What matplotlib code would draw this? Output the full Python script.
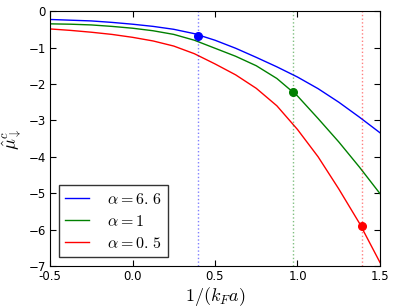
import matplotlib
matplotlib.use("Agg")
import matplotlib.pyplot as plt

# values
x_vals = [-0.5, -0.375, -0.25, -0.125, 0.0, 0.125, 0.25, 0.375, 0.5,
          0.625, 0.75, 0.875, 1.0, 1.125, 1.25, 1.375, 1.5]
mu_a66 = [-0.23, -0.25, -0.27, -0.31, -0.36, -0.42, -0.50, -0.62, -0.80,
          -1.02, -1.27, -1.53, -1.81, -2.13, -2.50, -2.91, -3.34]
mu_a1 = [-0.35, -0.36, -0.38, -0.42, -0.47, -0.54, -0.64, -0.80, -1.02,
         -1.24, -1.50, -1.85, -2.33, -2.95, -3.59, -4.28, -5.01]
mu_a05 = [-0.49, -0.53, -0.58, -0.64, -0.72, -0.82, -0.96, -1.17, -1.45,
          -1.75, -2.12, -2.60, -3.25, -4.00, -4.88, -5.82, -6.90]

labels = [r'$\alpha=6.\,6$', r'$\alpha=1$', r'$\alpha=0.\,5$']
colors = ['b', 'g', 'r']

# critical points (dots + dotted verticals)
crit_x = [0.40, 0.973, 1.39]
crit_y = [-0.69, -2.22, -5.91]

plt.rcParams['mathtext.fontset'] = 'cm'

fig = plt.figure(figsize=(3.95, 3.08), dpi=100)
ax = fig.add_axes([0.1266, 0.136, 0.8354, 0.828])

for ys, lab, c in zip([mu_a66, mu_a1, mu_a05], labels, colors):
    ax.plot(x_vals, ys, color=c, lw=1.0, label=lab)

for xc, yc, c in zip(crit_x, crit_y, colors):
    ax.axvline(xc, color=c, ls=':', lw=1.0, alpha=0.5)
    ax.plot([xc], [yc], 'o', color=c, markersize=5.5, markeredgecolor=c)

ax.set_xlim(-0.5, 1.5)
ax.set_ylim(-7, 0)
ax.set_xticks([-0.5, 0.0, 0.5, 1.0, 1.5])
ax.set_xticklabels(['-0.5', '0.0', '0.5', '1.0', '1.5'])
ax.set_yticks(range(-7, 1))
ax.tick_params(direction='in', top=True, right=True, length=4, labelsize=8.5, pad=3)

ax.set_xlabel(r'$1/(k_Fa)$', fontsize=13, labelpad=1)
ax.set_ylabel(r'$\hat{\mu}^c_\downarrow$', fontsize=13, labelpad=3)

leg = ax.legend(loc='lower left', fontsize=11.5, handlelength=1.5, handletextpad=1.1,
                labelspacing=0.45, borderaxespad=0.55, fancybox=False)
leg.get_frame().set_edgecolor('black')

fig.savefig('out.png', dpi=100)
